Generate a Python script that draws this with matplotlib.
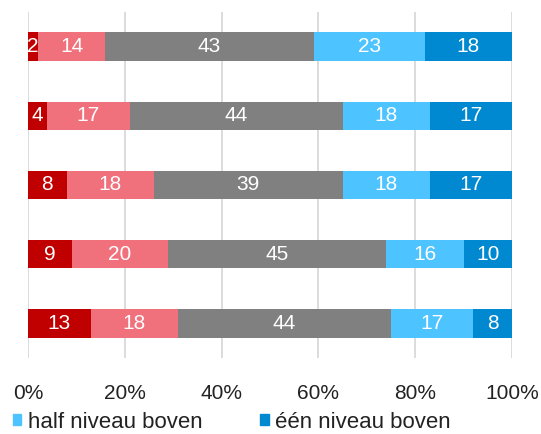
import matplotlib
matplotlib.use("Agg")
import matplotlib.pyplot as plt
from matplotlib.patches import Patch
import numpy as np

plt.rcParams['font.family'] = ['Liberation Sans', 'DejaVu Sans']

series_names = ["één niveau onder", "half niveau onder", "op niveau",
                "half niveau boven", "één niveau boven"]
colors = ["#C00000", "#F0707C", "#808080", "#4DC3FF", "#0088D1"]
rows = ["1", "2", "3", "4", "5"]  # top to bottom
s1 = [2, 4, 8, 9, 13]
s2 = [14, 17, 18, 20, 18]
s3 = [43, 44, 39, 45, 44]
s4 = [23, 18, 18, 16, 17]
s5 = [18, 17, 17, 10, 8]
data = [s1, s2, s3, s4, s5]
xticks = [0, 20, 40, 60, 80, 100]
xticklabels = ["0%", "20%", "40%", "60%", "80%", "100%"]

fig = plt.figure(figsize=(5.41, 4.34), dpi=100)
ax = fig.add_axes([28/541, 1-358/434, (512-28)/541, (358-12)/434])

y = np.arange(len(rows))[::-1]
left = np.zeros(len(rows))
for vals, c, name in zip(data, colors, series_names):
    vals = np.array(vals, dtype=float)
    ax.barh(y, vals, left=left, height=0.41, color=c, label=name, zorder=2)
    for yi, l, v in zip(y, left, vals):
        ax.text(l + v/2, yi, f"{int(v)}", ha="center", va="center",
                color="white", fontsize=15, zorder=3)
    left += vals

ax.set_xlim(0, 100)
ax.set_ylim(-0.5, len(rows)-0.5)
ax.set_xticks(xticks)
ax.set_xticklabels(xticklabels, fontsize=15, color="#222222")
ax.tick_params(axis="x", length=0, pad=19)
ax.set_yticks([])
for sp in ax.spines.values():
    sp.set_visible(False)
ax.grid(axis="x", color="#D9D9D9", linewidth=1.3, zorder=0)
ax.set_axisbelow(True)

handles = [Patch(color=colors[3]), Patch(color=colors[4])]
fig.legend(handles, [series_names[3], series_names[4]], loc="center left",
           bbox_to_anchor=(13/541, 1-422/434), ncol=2, frameon=False,
           fontsize=16, handlelength=0.38, handleheight=0.38, handletextpad=0.28,
           columnspacing=2.6, borderpad=0, borderaxespad=0,
           labelcolor="#222222")

fig.savefig("out.png", dpi=100)
